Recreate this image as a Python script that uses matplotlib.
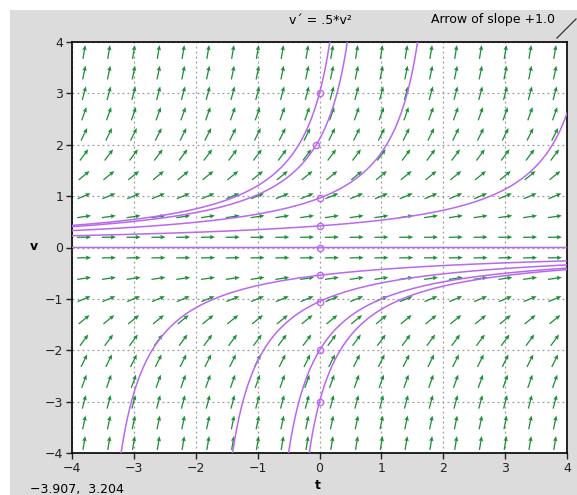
import numpy as np
import matplotlib
matplotlib.use("Agg")
import matplotlib.pyplot as plt
from matplotlib.patches import Rectangle

# slope field v' = 0.5 * v^2
coef = 0.5
t_min, t_max = -4, 4
v_min, v_max = -4, 4

# arrow grid (centres)
t_grid = np.linspace(-3.8, 3.8, 20)
v_grid = np.linspace(-3.8, 3.8, 20)

# initial points picked on the plot (t0, v0)
t0_list = [0.0, -0.05, 0.0, 0.0, 0.0, 0.0, 0.0, 0.0, 0.0]
v0_list = [3.0, 2.0, 0.96, 0.42, 0.0, -0.54, -1.05, -2.0, -3.0]

ticks = [-4, -3, -2, -1, 0, 1, 2, 3, 4]

W, H = 577, 495
fig = plt.figure(figsize=(W / 100, H / 100), dpi=100)
fig.patch.set_facecolor("white")
fig.patches.append(Rectangle((10 / W, 0), 1, 1 - 10 / H, transform=fig.transFigure,
                             facecolor="#dcdcdc", edgecolor="none", zorder=-10))

ax = fig.add_axes([71.7 / W, 1 - 453.3 / H, (567.3 - 71.7) / W, (453.3 - 41.7) / H])
ax.set_xlim(t_min, t_max)
ax.set_ylim(v_min, v_max)
ax.set_facecolor("white")

# pixels per unit, used to get screen directions of the arrows
px_t = (567.3 - 71.7) / (t_max - t_min)
px_v = (453.3 - 41.7) / (v_max - v_min)

T, V = np.meshgrid(t_grid, v_grid)
dx = np.ones_like(T) * px_t
dy = coef * V**2 * px_v
n = np.hypot(dx, dy)
U = dx / n
Vv = dy / n
ax.quiver(T, V, U, Vv, angles="uv", scale_units="dots", scale=1 / 14,
          pivot="middle", color="#1e8f3c", width=0.0026, headwidth=3.5,
          headlength=4, headaxislength=3.5, zorder=2)

# solution curves through the initial points
for t0, v0 in zip(t0_list, v0_list):
    t = np.linspace(t_min, t_max, 2000)
    den = 1 - coef * v0 * (t - t0)
    if v0 > 0:
        ok = den > 0
    elif v0 < 0:
        ok = den > 0
    else:
        ok = np.ones_like(t, dtype=bool)
    v = np.where(ok, v0 / np.where(den == 0, 1, den), np.nan)
    v[np.abs(v) > 4.5] = np.nan
    ax.plot(t, v, color="#b868f2", lw=1.1, zorder=3)
    ax.plot(t0, v0, "o", ms=4.5, mfc="none", mec="#b868f2", mew=1.0, zorder=4)

ax.set_xticks(ticks)
ax.set_yticks(ticks)
ax.set_xticklabels([str(k).replace("-", "\u2212") for k in ticks])
ax.set_yticklabels([str(k).replace("-", "\u2212") for k in ticks])
ax.tick_params(direction="out", length=4, width=1, labelsize=9, colors="#222222", pad=2)
ax.grid(True, color="#999999", ls=(0, (1.5, 2.5)), lw=0.9)
ax.set_axisbelow(True)
for s in ax.spines.values():
    s.set_linewidth(1.2)
    s.set_color("black")

fig.text(318 / W, 1 - 492 / H, "t", ha="center", va="bottom", fontsize=9, fontweight="bold")
fig.text(34 / W, 1 - 247 / H, "v", ha="center", va="center", fontsize=9, fontweight="bold")
fig.text(320 / W, 1 - 20 / H, "v\u00b4 = .5*v\u00b2", ha="center", va="center", fontsize=9)
fig.text(555 / W, 1 - 20 / H, "Arrow of slope +1.0", ha="right", va="center", fontsize=9)
fig.text(30 / W, 1 - 489 / H, "\u22123.907,  3.204", ha="left", va="center", fontsize=9)
fig.add_artist(plt.Line2D([557 / W, 576 / W], [1 - 38 / H, 1 - 19 / H],
                          transform=fig.transFigure, color="#333333", lw=0.9))

fig.savefig("out.png", dpi=100, facecolor=fig.get_facecolor())
